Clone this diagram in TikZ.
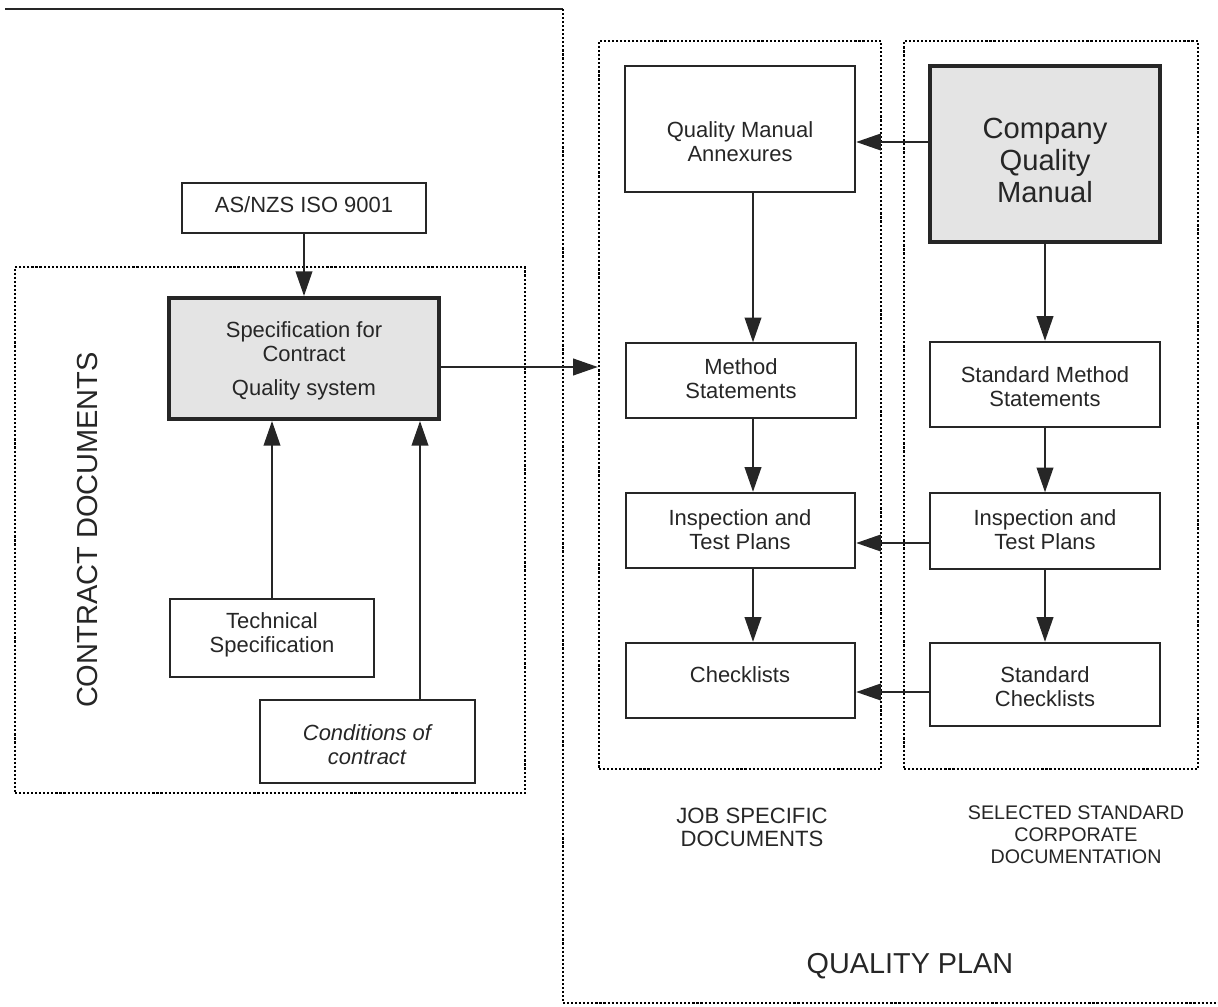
\documentclass[tikz,border=0pt]{standalone}
\usepackage{fontspec}
\setmainfont{Liberation Sans}
\usetikzlibrary{arrows.meta,fit,calc}
\definecolor{ink}{HTML}{262626}
\definecolor{boxgray}{HTML}{E4E4E4}
\tikzset{
  boxbase/.style={draw=ink, inner sep=0pt},
  thinbox/.style={boxbase, line width=0.85pt},
  medbox/.style={boxbase, line width=1.4pt},
  heavybox/.style={boxbase, line width=2.3pt, fill=boxgray},
  dotbox/.style={draw=black, line width=1.35pt, dash pattern=on 1.2pt off 1.1pt, inner sep=0pt},
  txt/.style={align=center, text=ink, inner sep=0pt, font=\fontsize{12.5}{13.6}\selectfont},
  arr/.style={draw=ink, line width=0.85pt, -{Triangle[length=14pt,width=9.5pt]}}
}
\begin{document}
\begin{tikzpicture}[x=0.02cm,y=-0.02cm]
\useasboundingbox (0,0) rectangle (1218,1007);
% outer frames
\draw[ink, line width=1.5pt] (5,9) -- (563,9);
\draw[dotbox] (563,9) -- (563,1003) -- (1218,1003);
\node[dotbox, fit={(15,267)(525,793)}] (contract) {};
\node[dotbox, fit={(599,41)(881,769)}] (job) {};
\node[dotbox, fit={(904,41)(1198,769)}] (std) {};
% left boxes
\node[thinbox, fit={(182,183)(426,233)}] (iso) {};
\node[heavybox, fit={(169,298)(439,419)}] (spec) {};
\node[thinbox, fit={(170,599)(374,677)}] (tech) {};
\node[thinbox, fit={(260,700)(475,783)}] (cond) {};
% job specific boxes
\node[medbox, fit={(625,66)(855,192)}] (qma) {};
\node[thinbox, fit={(626,343)(856,418)}] (ms) {};
\node[medbox, fit={(626,493)(855,568)}] (itpL) {};
\node[medbox, fit={(626,643)(855,718)}] (chk) {};
% standard boxes
\node[heavybox, fit={(930,66)(1160,242)}] (cqm) {};
\node[medbox, fit={(930,342)(1160,427)}] (sms) {};
\node[thinbox, fit={(930,493)(1160,569)}] (itpR) {};
\node[medbox, fit={(930,643)(1160,726)}] (schk) {};
% texts
\node[txt] (isoT) at (304,205) {AS/NZS ISO 9001};
\node[txt] (specT) at (304,361) {Specification for\\Contract\\[5.5pt]Quality system};
\node[txt] (techT) at (272,635) {Technical\\Specification};
\node[txt, font=\fontsize{12.5}{13.6}\selectfont\itshape] (condT) at (367,745) {Conditions of\\contract};
\node[txt] (qmaT) at (740,142) {Quality Manual\\Annexures};
\node[txt] (msT) at (741,379) {Method\\Statements};
\node[txt] (itpLT) at (740,530) {Inspection and\\Test Plans};
\node[txt] (chkT) at (740,675) {Checklists};
\node[txt, font=\fontsize{16.6}{18.2}\selectfont] (cqmT) at (1045,160) {Company\\Quality\\Manual};
\node[txt] (smsT) at (1045,387) {Standard Method\\Statements};
\node[txt] (itpRT) at (1045,530) {Inspection and\\Test Plans};
\node[txt] (schkT) at (1045,687) {Standard\\Checklists};
\node[txt, rotate=90, font=\fontsize{16.5}{18}\selectfont] (cdT) at (88,530) {CONTRACT DOCUMENTS};
\node[txt, font=\fontsize{12.6}{13.1}\selectfont] (jobT) at (752,827) {JOB SPECIFIC\\DOCUMENTS};
\node[txt, font=\fontsize{11.2}{12.5}\selectfont] (selT) at (1076,835) {SELECTED STANDARD\\CORPORATE\\DOCUMENTATION};
\node[txt, font=\fontsize{16.4}{18}\selectfont] (qpT) at (910,966) {QUALITY PLAN};
% helper coordinates
\coordinate (ySpec) at (0,367);
\coordinate (yCqm) at (0,142);
\coordinate (yItp) at (0,543);
\coordinate (yChk) at (0,692);
\coordinate (xCond) at (420,0);
\coordinate (xLeft) at (753,0);
% connectors
\draw[arr] (iso.south) -- (spec.north);
\draw[arr] (tech.north) -- (tech.north |- spec.south);
\draw[arr] (xCond |- cond.north) -- (xCond |- spec.south);
\draw[arr] (spec.east |- ySpec) -- (job.west |- ySpec);
\draw[arr] (cqm.west |- yCqm) -- (qma.east |- yCqm);
\draw[arr] (xLeft |- qma.south) -- (xLeft |- ms.north);
\draw[arr] (xLeft |- ms.south) -- (xLeft |- itpL.north);
\draw[arr] (xLeft |- itpL.south) -- (xLeft |- chk.north);
\draw[arr] (cqm.south) -- (sms.north);
\draw[arr] (sms.south) -- (itpR.north);
\draw[arr] (itpR.south) -- (schk.north);
\draw[arr] (itpR.west |- yItp) -- (itpL.east |- yItp);
\draw[arr] (schk.west |- yChk) -- (chk.east |- yChk);
\end{tikzpicture}
\end{document}
